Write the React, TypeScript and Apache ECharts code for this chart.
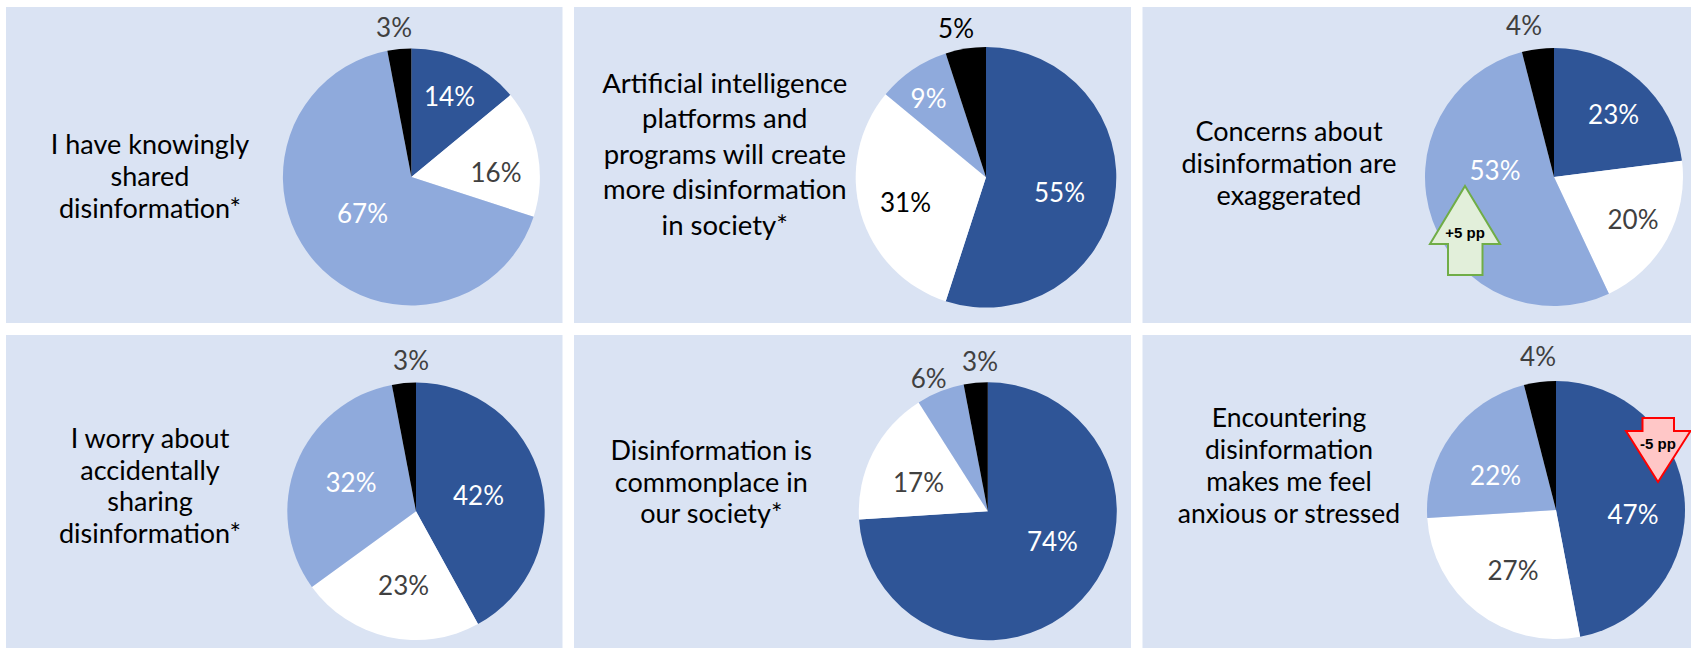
import React, { useEffect, useRef } from "react";
import * as echarts from "echarts";

const names = ["Agree", "Neutral", "Disagree", "Don't know"];
const colors = ["#2F5597", "#FFFFFF", "#8FAADC", "#000000"];
const valuesA = [14, 16, 67, 3];
const valuesB = [55, 31, 9, 5];
const valuesC = [23, 20, 53, 4];
const valuesD = [42, 23, 32, 3];
const valuesE = [74, 17, 6, 3];
const valuesF = [47, 27, 22, 4];

const panels = [
  [6, 7, 556.5, 316], [574, 7, 557, 316], [1142.5, 7, 548.5, 316],
  [6, 335, 556.5, 313], [574, 335, 557, 313], [1142.5, 335, 548.5, 313],
];
const pies = [
  { v: valuesA, c: [411.4, 177], r: 128.5, lab: [[449.5, 96], [496, 172], [362.5, 213], [394, 27]], col: ["#fff", "#404040", "#fff", "#404040"] },
  { v: valuesB, c: [986, 177.3], r: 130.3, lab: [[1059.5, 191.7], [905.5, 201.7], [928.5, 98], [956, 27.5]], col: ["#fff", "#000", "#fff", "#000"] },
  { v: valuesC, c: [1554, 177], r: 129, lab: [[1613.6, 114], [1633, 219], [1495, 170], [1524, 25]], col: ["#fff", "#404040", "#fff", "#404040"] },
  { v: valuesD, c: [416, 511.3], r: 128.7, lab: [[478.5, 495], [403.6, 585], [351, 481.7], [411, 360]], col: ["#fff", "#404040", "#fff", "#404040"] },
  { v: valuesE, c: [987.8, 511.3], r: 129, lab: [[1052.4, 540.7], [918.5, 481.7], [928.7, 377.7], [980, 360.7]], col: ["#fff", "#404040", "#404040", "#404040"] },
  { v: valuesF, c: [1556, 510], r: 129, lab: [[1633, 514], [1513, 570], [1495.6, 475], [1538, 356]], col: ["#fff", "#404040", "#fff", "#404040"] },
];
const captions = [
  { t: "I have knowingly\nshared\ndisinformation*", x: 150, y: 175, lh: 32, s: 27 },
  { t: "Artificial intelligence\nplatforms and\nprograms will create\nmore disinformation\nin society*", x: 724.8, y: 153.3, lh: 35.4, s: 27.5 },
  { t: "Concerns about\ndisinformation are\nexaggerated", x: 1289, y: 162, lh: 32, s: 27 },
  { t: "I worry about\naccidentally\nsharing\ndisinformation*", x: 150, y: 485, lh: 31.5, s: 27 },
  { t: "Disinformation is\ncommonplace in\nour society*", x: 711.3, y: 481, lh: 31.7, s: 27 },
  { t: "Encountering\ndisinformation\nmakes me feel\nanxious or stressed", x: 1289, y: 465, lh: 31.7, s: 26.5 },
];
const FONT = "Lato";

export default function App() {
  const ref = useRef<HTMLDivElement>(null);
  useEffect(() => {
    document.body.style.margin = "0";
    const chart = echarts.init(ref.current!, null, { renderer: "svg" });
    chart.setOption({
      animation: false,
      backgroundColor: "#FFFFFF",
      graphic: [
        ...panels.map(([x, y, width, height]) => ({
          type: "rect", z: 0, silent: true,
          shape: { x, y, width, height }, style: { fill: "#DAE3F3" },
        })),
        ...captions.map((c) => ({
          type: "text", z: 1, silent: true, x: c.x, y: c.y,
          style: {
            text: c.t, font: `${c.s}px ${FONT}`, fill: "#000000", lineHeight: c.lh,
            align: "center", verticalAlign: "middle",
          },
        })),
        {
          type: "polygon", z: 10, silent: true,
          shape: { points: [[1465, 186], [1500, 244], [1482.5, 244], [1482.5, 275], [1448, 275], [1448, 244], [1430, 244]] },
          style: { fill: "#E2EFDA", stroke: "#70AD47", lineWidth: 2 },
        },
        {
          type: "text", z: 11, silent: true, x: 1465, y: 232,
          style: { text: "+5 pp", font: "bold 15px 'Liberation Sans'", fill: "#000", align: "center", verticalAlign: "middle" },
        },
        {
          type: "polygon", z: 10, silent: true,
          shape: { points: [[1642.5, 418], [1674, 418], [1674, 431], [1690.5, 431], [1658, 482], [1626, 431], [1642.5, 431]] },
          style: { fill: "#FFC7C7", stroke: "#FF0000", lineWidth: 2 },
        },
        {
          type: "text", z: 11, silent: true, x: 1658, y: 443,
          style: { text: "-5 pp", font: "bold 15px 'Liberation Sans'", fill: "#000", align: "center", verticalAlign: "middle" },
        },
      ],
      series: pies.map((p) => ({
        type: "pie",
        center: p.c,
        radius: [0, p.r],
        startAngle: 90,
        clockwise: true,
        silent: true,
        labelLine: { show: false },
        label: { show: true, position: "inside", formatter: "{c}%", fontFamily: FONT, fontSize: 26 },
        labelLayout: (params: any) => ({
          x: p.lab[params.dataIndex][0],
          y: p.lab[params.dataIndex][1],
          align: "center",
          verticalAlign: "middle",
        }),
        data: p.v.map((value, i) => ({
          name: names[i],
          value,
          itemStyle: { color: colors[i] },
          label: { color: p.col[i] },
        })),
      })),
    });
    return () => chart.dispose();
  }, []);
  return <div ref={ref} style={{ width: 1691, height: 648 }} />;
}
